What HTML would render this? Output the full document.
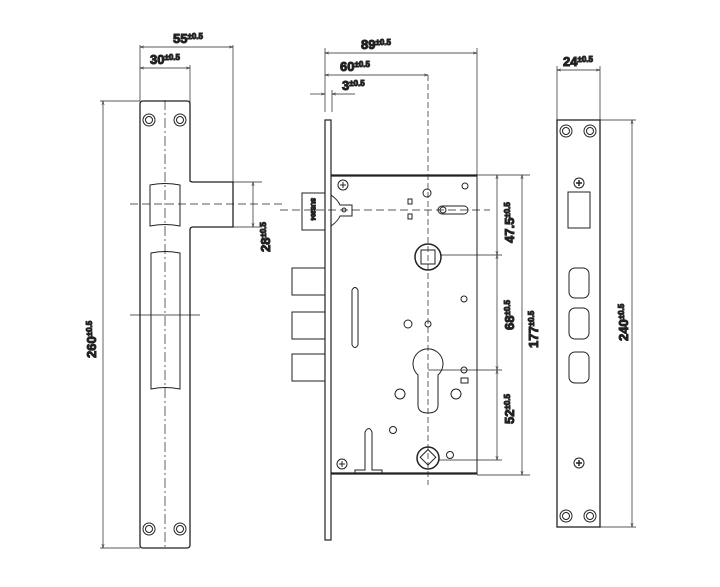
<!DOCTYPE html>
<html><head><meta charset="utf-8"><style>
html,body{margin:0;padding:0;background:#fff;width:720px;height:587px;overflow:hidden}
svg{display:block}
text{font-family:"Liberation Sans",sans-serif;font-weight:bold;fill:#222}
.s{font-size:8px}
</style></head><body>
<svg width="720" height="587" viewBox="0 0 720 587" fill="none" stroke="#222" stroke-width="1">
<defs>
<marker id="a" viewBox="0 0 10 10" refX="10" refY="5" markerWidth="6" markerHeight="6" orient="auto-start-reverse"><path d="M0,2 L10,5 L0,8" fill="none" stroke="#222"/></marker>
</defs>
<g stroke-width="0.7">
<!-- left plate dims -->
<line x1="140" y1="45" x2="140" y2="101"/><line x1="190" y1="65" x2="190" y2="182"/><line x1="233" y1="45" x2="233" y2="182"/>
<line x1="140" y1="47" x2="233" y2="47" marker-start="url(#a)" marker-end="url(#a)"/>
<line x1="140" y1="68" x2="190" y2="68" marker-start="url(#a)" marker-end="url(#a)"/>
<line x1="233" y1="182" x2="262" y2="182"/><line x1="233" y1="227" x2="262" y2="227"/>
<line x1="253" y1="182" x2="253" y2="227" marker-start="url(#a)" marker-end="url(#a)"/>
<line x1="100" y1="101" x2="140" y2="101"/><line x1="100" y1="548" x2="140" y2="548"/>
<line x1="103" y1="101" x2="103" y2="548" marker-start="url(#a)" marker-end="url(#a)"/>
<line x1="130" y1="204" x2="282" y2="204" stroke-dasharray="8,4"/>
<line x1="130" y1="315" x2="200" y2="315"/>
<line x1="165" y1="100" x2="165" y2="550" stroke-dasharray="10,3,2,3"/>
</g>
<path d="M143,101 H187 Q190,101 190,104 V180 Q190,182 193,182 H233 V227 H193 Q190,227 190,230 V545 Q190,548 187,548 H143 Q140,548 140,545 V104 Q140,101 143,101 Z" stroke-width="1.3"/>
<path d="M150,185 Q165,182 180,185 V226 Q165,223 150,226 Z"/>
<path d="M151,253 Q165,250 180,253 V389 Q165,386 151,389 Z"/>
<g>
<circle cx="149" cy="120" r="6"/><circle cx="149" cy="120" r="3.5"/><circle cx="180" cy="120" r="6"/><circle cx="180" cy="120" r="3.5"/>
<circle cx="149" cy="529" r="6"/><circle cx="149" cy="529" r="3.5"/><circle cx="180" cy="529" r="6"/><circle cx="180" cy="529" r="3.5"/>
</g>
<text x="173" y="43" font-size="13">55<tspan class="s" dy="-4">±0.5</tspan></text>
<text x="150" y="64" font-size="13">30<tspan class="s" dy="-4">±0.5</tspan></text>
<text transform="translate(270,252) rotate(-90)" font-size="13">28<tspan class="s" dy="-4">±0.5</tspan></text>
<text transform="translate(96,358) rotate(-90)" font-size="13">260<tspan class="s" dy="-4">±0.5</tspan></text>

<!-- middle -->
<g stroke-width="0.7">
<line x1="325" y1="48" x2="325" y2="112"/><line x1="332" y1="90" x2="332" y2="112"/><line x1="477" y1="48" x2="477" y2="175"/>
<line x1="325" y1="53" x2="477" y2="53" marker-start="url(#a)" marker-end="url(#a)"/>
<line x1="325" y1="75" x2="428" y2="75" marker-start="url(#a)" marker-end="url(#a)"/>
<line x1="310" y1="94" x2="325" y2="94" marker-end="url(#a)"/><line x1="355" y1="94" x2="332" y2="94" marker-end="url(#a)"/>
<line x1="428" y1="75" x2="428" y2="485" stroke-dasharray="6,3"/>
<line x1="280" y1="210" x2="490" y2="210" stroke-dasharray="8,4"/>
<line x1="477" y1="175" x2="530" y2="175"/><line x1="440" y1="255" x2="502" y2="255"/><line x1="428" y1="370" x2="502" y2="370"/><line x1="438" y1="460" x2="502" y2="460"/><line x1="477" y1="475" x2="530" y2="475"/>
<line x1="497" y1="175" x2="497" y2="255" marker-start="url(#a)" marker-end="url(#a)"/>
<line x1="497" y1="255" x2="497" y2="370" marker-start="url(#a)" marker-end="url(#a)"/>
<line x1="497" y1="370" x2="497" y2="460" marker-start="url(#a)" marker-end="url(#a)"/>
<line x1="522" y1="175" x2="522" y2="475" marker-start="url(#a)" marker-end="url(#a)"/>
</g>
<rect x="325" y="120" width="6" height="420" stroke-width="1.2"/>
<rect x="331" y="175" width="146" height="299"/>
<line x1="331" y1="175.5" x2="477" y2="175.5" stroke-width="2.2"/><line x1="331" y1="473.5" x2="477" y2="473.5" stroke-width="2.2"/>
<rect x="302" y="193" width="23" height="37"/>
<text transform="translate(311,198) rotate(90)" font-size="6" style="font-weight:bold">SUS304</text>
<path d="M331,195 Q338,200 340,205 H352 V216 H340 Q338,221 331,226"/><circle cx="344" cy="210" r="2"/>
<rect x="292" y="268" width="33" height="27"/><rect x="292" y="312" width="33" height="27"/><rect x="292" y="354" width="33" height="27"/>
<circle cx="343" cy="185" r="5"/><path d="M340,185h6M343,182v6"/>
<circle cx="427" cy="193" r="4"/><circle cx="465" cy="186" r="3"/>
<rect x="408" y="199" width="4" height="5"/><rect x="408" y="214" width="4" height="5"/>
<rect x="438" y="206" width="30" height="8" rx="4"/><circle cx="443" cy="210" r="3"/>
<circle cx="428" cy="257" r="13" stroke-width="1.5"/><rect x="421" y="250" width="14" height="14"/>
<path d="M352,290 V345 M358,290 V345" /><path d="M352,290 Q355,285 358,290 M352,345 Q355,350 358,345"/>
<circle cx="464" cy="299" r="3"/><circle cx="408" cy="324" r="4"/><circle cx="428" cy="324" r="3"/>
<path d="M418,375 A15,15 0 1 1 438,375 V405 Q438,413 428,413 Q418,413 418,405 Z"/>
<circle cx="464" cy="370" r="3"/><rect x="461" y="378" width="7" height="5"/>
<circle cx="400" cy="394" r="5"/><circle cx="456" cy="394" r="5"/>
<circle cx="393" cy="430" r="3.5"/><circle cx="450" cy="455" r="3.5"/>
<circle cx="428" cy="458" r="11" stroke-width="1.5"/><rect x="422" y="452" width="11" height="11" transform="rotate(45 428 458)"/>
<circle cx="342" cy="464" r="5"/><path d="M339,464h6M342,461v6"/>
<path d="M355,473 V470 H365 V432 Q369,425 372,432 V470 H382 V473"/>
<text x="361" y="49" font-size="13">89<tspan class="s" dy="-4">±0.5</tspan></text>
<text x="340" y="71" font-size="13">60<tspan class="s" dy="-4">±0.5</tspan></text>
<text x="342" y="90" font-size="13">3<tspan class="s" dy="-4">±0.5</tspan></text>
<text transform="translate(514,243) rotate(-90)" font-size="13">47.5<tspan class="s" dy="-4">±0.5</tspan></text>
<text transform="translate(514,330) rotate(-90)" font-size="13">68<tspan class="s" dy="-4">±0.5</tspan></text>
<text transform="translate(514,424) rotate(-90)" font-size="13">52<tspan class="s" dy="-4">±0.5</tspan></text>
<text transform="translate(538,348) rotate(-90)" font-size="13">177<tspan class="s" dy="-4">±0.5</tspan></text>

<!-- right plate -->
<g stroke-width="0.7">
<line x1="557" y1="66" x2="557" y2="120"/><line x1="600" y1="66" x2="600" y2="120"/>
<line x1="557" y1="70" x2="600" y2="70" marker-start="url(#a)" marker-end="url(#a)"/>
<line x1="600" y1="120" x2="636" y2="120"/><line x1="600" y1="527" x2="636" y2="527"/>
<line x1="632" y1="120" x2="632" y2="527" marker-start="url(#a)" marker-end="url(#a)"/>
</g>
<rect x="557" y="120" width="43" height="407" stroke-width="1.3"/>
<circle cx="566" cy="131" r="6"/><circle cx="566" cy="131" r="3.5"/><circle cx="590" cy="131" r="6"/><circle cx="590" cy="131" r="3.5"/>
<circle cx="566" cy="516" r="6"/><circle cx="566" cy="516" r="3.5"/><circle cx="590" cy="516" r="6"/><circle cx="590" cy="516" r="3.5"/>
<circle cx="579" cy="183" r="5"/><path d="M576,183h6M579,180v6" stroke-width="1.5"/>
<circle cx="579" cy="463" r="5"/><path d="M576,463h6M579,460v6" stroke-width="1.5"/>
<rect x="568" y="192" width="22" height="36"/>
<rect x="569" y="268" width="20" height="30" rx="6"/><rect x="569" y="308" width="20" height="31" rx="6"/><rect x="569" y="352" width="20" height="31" rx="6"/>
<text x="563" y="66" font-size="13">24<tspan class="s" dy="-4">±0.5</tspan></text>
<text transform="translate(628,341) rotate(-90)" font-size="13">240<tspan class="s" dy="-4">±0.5</tspan></text>
</svg>
</body></html>
